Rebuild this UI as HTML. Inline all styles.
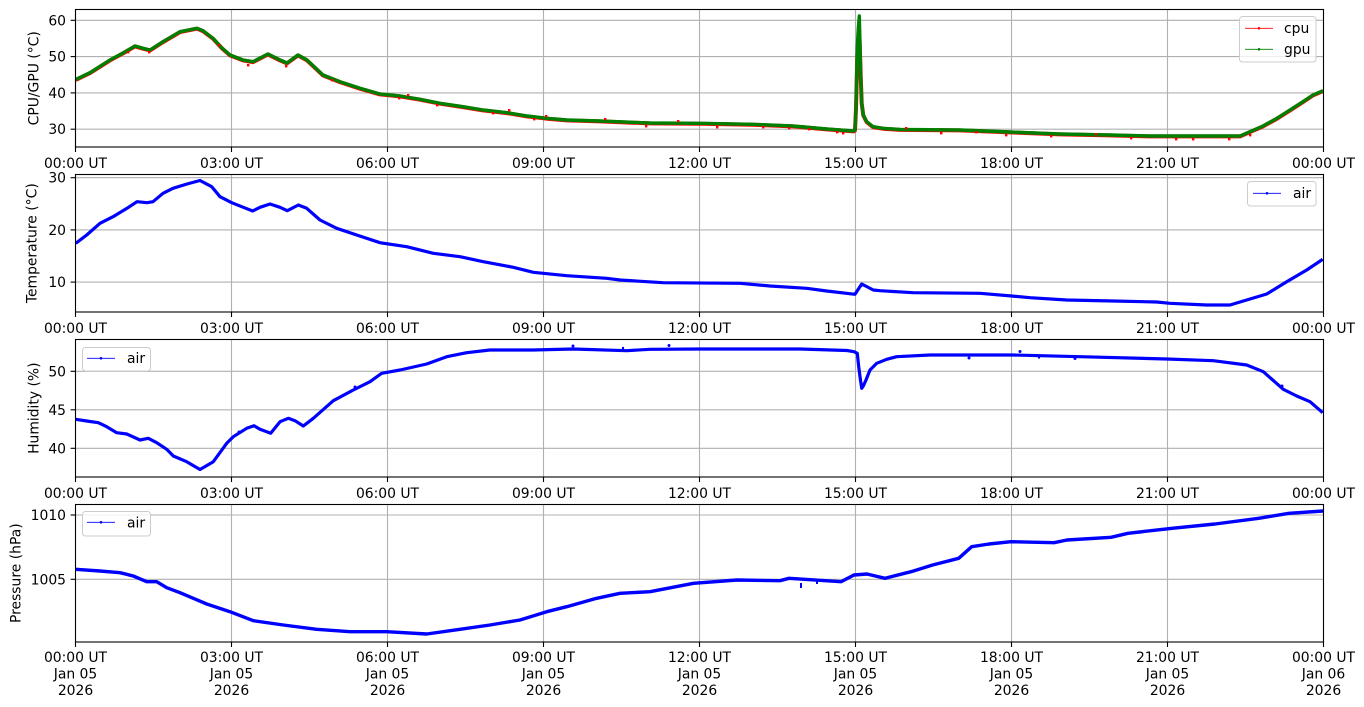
<!DOCTYPE html>
<html><head><meta charset="utf-8"><style>
html,body{margin:0;padding:0;background:#fff;}
svg{display:block;font-family:"DejaVu Sans","Liberation Sans",sans-serif;}
.tk{font-size:13.9px;fill:#000;}
.grid{stroke:#b0b0b0;stroke-width:1.1;}
.ax{fill:none;stroke:#000;stroke-width:1.1;}
.tick{stroke:#000;stroke-width:1.1;}
</style></head><body>
<svg width="1364" height="707" viewBox="0 0 1364 707" xmlns="http://www.w3.org/2000/svg">
<defs>
<clipPath id="c1"><rect x="75.5" y="9.5" width="1248" height="137.5"/></clipPath>
<clipPath id="c2"><rect x="75.5" y="174.5" width="1248" height="137.5"/></clipPath>
<clipPath id="c3"><rect x="75.5" y="339.5" width="1248" height="137.5"/></clipPath>
<clipPath id="c4"><rect x="75.5" y="504.5" width="1248" height="137.5"/></clipPath>
</defs>
<rect width="1364" height="707" fill="#fff"/>

<!-- ========== PANEL 1 ========== -->
<g>
<g class="grid">
<line x1="75.5" x2="1323.5" y1="20.3" y2="20.3"/><line x1="75.5" x2="1323.5" y1="56.6" y2="56.6"/>
<line x1="75.5" x2="1323.5" y1="92.9" y2="92.9"/><line x1="75.5" x2="1323.5" y1="129.2" y2="129.2"/>
<line x1="75.5" x2="75.5" y1="9.5" y2="147"/><line x1="231.5" x2="231.5" y1="9.5" y2="147"/>
<line x1="387.5" x2="387.5" y1="9.5" y2="147"/><line x1="543.5" x2="543.5" y1="9.5" y2="147"/>
<line x1="699.5" x2="699.5" y1="9.5" y2="147"/><line x1="855.5" x2="855.5" y1="9.5" y2="147"/>
<line x1="1011.5" x2="1011.5" y1="9.5" y2="147"/><line x1="1167.5" x2="1167.5" y1="9.5" y2="147"/>
</g>
<g clip-path="url(#c1)" fill="none" stroke-linejoin="round">
<polyline stroke="#ff0000" stroke-width="4" transform="translate(0,0.4)" points="75.7,79.5 90,72.7 110,60 123,53 135,46 143,48.3 150,50 163,41.7 180,31.7 197,28.3 203,30.7 213,38.3 222,48 230,55 243,60 253,61.7 268,54 280,60 287,63 298,55 307,60 323,75 340,81.7 360,88.3 380,94 400,96 420,99.3 440,103.3 463,106.7 483,110 507,112.7 527,116 547,118.3 567,120 600,121 650,123 700,123.3 753,124.3 793,126 826.7,129 853.5,131 855,130 856,108 856.7,80 857.3,55 858.3,40 859.3,30 860.7,75 861.7,103 863.3,115 866.7,121.7 873,126.7 883,128.3 900,129.5 960,130 1010,132 1060,134 1110,135 1150,136 1240,136 1250,131.7 1263,126 1277,118.3 1290,110 1303,101.7 1313,95 1323,90.7"/>
<polyline stroke="#008000" stroke-width="3.4" points="75.7,79.5 90,72.7 110,60 123,53 135,46 143,48.3 150,50 163,41.7 180,31.7 197,28.3 203,30.7 213,38.3 222,48 230,55 243,60 253,61.7 268,54 280,60 287,63 298,55 307,60 323,75 340,81.7 360,88.3 380,94 400,96 420,99.3 440,103.3 463,106.7 483,110 507,112.7 527,116 547,118.3 567,120 600,121 650,123 700,123.3 753,124.3 793,126 826.7,129 853.5,131 855,130 856,108 856.7,75 857.3,46.7 858.3,28.3 859.3,16 860.7,75 861.7,103 863.3,115 866.7,121.7 873,126.7 883,128.3 900,129.5 960,130 1010,132 1060,134 1110,135 1150,136 1240,136 1250,131.7 1263,126 1277,118.3 1290,110 1303,101.7 1313,95 1323,90.7"/>
</g>
<g fill="#ff0000">
<rect x="127" y="51" width="2.4" height="2.4"/><rect x="148" y="51" width="2.4" height="2.4"/><rect x="247" y="64" width="2.4" height="2.4"/>
<rect x="285" y="65" width="2.4" height="2.4"/><rect x="218" y="44" width="2.4" height="2.4"/><rect x="331" y="79" width="2.4" height="2.4"/>
<rect x="398" y="97" width="2.4" height="2.4"/><rect x="407" y="94" width="2.4" height="2.4"/><rect x="436" y="104" width="2.4" height="2.4"/>
<rect x="492" y="112" width="2.4" height="2.4"/><rect x="508" y="109" width="2.4" height="2.4"/><rect x="533" y="118" width="2.4" height="2.4"/>
<rect x="545" y="115" width="2.4" height="2.4"/><rect x="604" y="118" width="2.4" height="2.4"/><rect x="645" y="125" width="2.4" height="2.4"/>
<rect x="677" y="120" width="2.4" height="2.4"/><rect x="716" y="126" width="2.4" height="2.4"/><rect x="762" y="126" width="2.4" height="2.4"/>
<rect x="788" y="127" width="2.4" height="2.4"/><rect x="808" y="128" width="2.4" height="2.4"/><rect x="836" y="131" width="2.4" height="2.4"/>
<rect x="842" y="132" width="2.4" height="2.4"/><rect x="905" y="127" width="2.4" height="2.4"/><rect x="940" y="132" width="2.4" height="2.4"/>
<rect x="975" y="131" width="2.4" height="2.4"/><rect x="1005" y="134" width="2.4" height="2.4"/><rect x="1050" y="135" width="2.4" height="2.4"/>
<rect x="1095" y="133" width="2.4" height="2.4"/><rect x="1130" y="137" width="2.4" height="2.4"/><rect x="1175" y="138" width="2.4" height="2.4"/>
<rect x="1192" y="138" width="2.4" height="2.4"/><rect x="1228" y="138" width="2.4" height="2.4"/><rect x="1249" y="134" width="2.4" height="2.4"/>
</g>
<rect class="ax" x="75.5" y="9.5" width="1248" height="137.5"/>
<g class="tick">
<line x1="70.6" x2="75.5" y1="20.3" y2="20.3"/><line x1="70.6" x2="75.5" y1="56.6" y2="56.6"/>
<line x1="70.6" x2="75.5" y1="92.9" y2="92.9"/><line x1="70.6" x2="75.5" y1="129.2" y2="129.2"/>
<line x1="75.5" x2="75.5" y1="147" y2="152"/><line x1="231.5" x2="231.5" y1="147" y2="152"/>
<line x1="387.5" x2="387.5" y1="147" y2="152"/><line x1="543.5" x2="543.5" y1="147" y2="152"/>
<line x1="699.5" x2="699.5" y1="147" y2="152"/><line x1="855.5" x2="855.5" y1="147" y2="152"/>
<line x1="1011.5" x2="1011.5" y1="147" y2="152"/><line x1="1167.5" x2="1167.5" y1="147" y2="152"/>
<line x1="1323.5" x2="1323.5" y1="147" y2="152"/>
</g>
<g class="tk" text-anchor="end">
<text x="66" y="25.3">60</text><text x="66" y="61.6">50</text><text x="66" y="97.9">40</text><text x="66" y="134.2">30</text>
</g>
<g class="tk" text-anchor="middle">
<text x="75.5" y="168">00:00 UT</text><text x="231.5" y="168">03:00 UT</text><text x="387.5" y="168">06:00 UT</text>
<text x="543.5" y="168">09:00 UT</text><text x="699.5" y="168">12:00 UT</text><text x="855.5" y="168">15:00 UT</text>
<text x="1011.5" y="168">18:00 UT</text><text x="1167.5" y="168">21:00 UT</text><text x="1323.5" y="168">00:00 UT</text>
</g>
<text class="tk" text-anchor="middle" transform="translate(38.5,78.3) rotate(-90)">CPU/GPU (°C)</text>
<rect x="1239.5" y="16.5" width="76.5" height="45.5" rx="3" fill="#fff" fill-opacity="0.8" stroke="#cccccc" stroke-width="1"/>
<line x1="1245" x2="1273" y1="28.3" y2="28.3" stroke="#ff0000" stroke-width="0.8"/>
<circle cx="1259" cy="28.3" r="1.3" fill="#ff0000"/>
<line x1="1245" x2="1273" y1="49.3" y2="49.3" stroke="#008000" stroke-width="0.8"/>
<circle cx="1259" cy="49.3" r="1.3" fill="#008000"/>
<text class="tk" x="1284" y="33">cpu</text>
<text class="tk" x="1284" y="54">gpu</text>
</g>

<!-- ========== PANEL 2 ========== -->
<g>
<g class="grid">
<line x1="75.5" x2="1323.5" y1="177.7" y2="177.7"/><line x1="75.5" x2="1323.5" y1="229.9" y2="229.9"/>
<line x1="75.5" x2="1323.5" y1="282.1" y2="282.1"/>
<line x1="231.5" x2="231.5" y1="174.5" y2="312"/>
<line x1="387.5" x2="387.5" y1="174.5" y2="312"/><line x1="543.5" x2="543.5" y1="174.5" y2="312"/>
<line x1="699.5" x2="699.5" y1="174.5" y2="312"/><line x1="855.5" x2="855.5" y1="174.5" y2="312"/>
<line x1="1011.5" x2="1011.5" y1="174.5" y2="312"/><line x1="1167.5" x2="1167.5" y1="174.5" y2="312"/>
</g>
<g clip-path="url(#c2)" fill="none" stroke-linejoin="round">
<polyline stroke="#0000ff" stroke-width="3.2" points="75.7,243.3 86.7,235 100,223.3 113,216.7 127,208.3 137,201.7 147,202.7 153,201.7 163,193.3 173,188.3 187,184 200,180.5 211.7,186.7 220,196.7 231.7,202.7 243.3,207.3 252.7,211 260,207.3 270,204 280,207.3 287.3,210.7 298.3,205 306.7,208.3 320,220 336.7,228.3 356.7,235 380,242.7 406.7,246.7 433.3,253.3 460,256.7 483.3,261.7 513.3,267.3 533.3,272.3 566.7,275.7 606.7,278.3 620,280 663,282.7 740,283.3 770,286 806.7,288.3 826.7,291 855,294.3 861.7,284 873.3,290 880,290.7 913.3,292.7 980,293.3 1011.7,296 1030,297.7 1066.7,300 1113.3,301 1156.7,302 1170,303.3 1206.7,305 1230,305 1246.7,300 1266.7,294 1286.7,281.7 1306.7,270 1322.7,259.3"/>
</g>
<rect class="ax" x="75.5" y="174.5" width="1248" height="137.5"/>
<g class="tick">
<line x1="70.6" x2="75.5" y1="177.7" y2="177.7"/><line x1="70.6" x2="75.5" y1="229.9" y2="229.9"/>
<line x1="70.6" x2="75.5" y1="282.1" y2="282.1"/>
<line x1="75.5" x2="75.5" y1="312" y2="317"/><line x1="231.5" x2="231.5" y1="312" y2="317"/>
<line x1="387.5" x2="387.5" y1="312" y2="317"/><line x1="543.5" x2="543.5" y1="312" y2="317"/>
<line x1="699.5" x2="699.5" y1="312" y2="317"/><line x1="855.5" x2="855.5" y1="312" y2="317"/>
<line x1="1011.5" x2="1011.5" y1="312" y2="317"/><line x1="1167.5" x2="1167.5" y1="312" y2="317"/>
<line x1="1323.5" x2="1323.5" y1="312" y2="317"/>
</g>
<g class="tk" text-anchor="end">
<text x="66" y="182.7">30</text><text x="66" y="234.9">20</text><text x="66" y="287.1">10</text>
</g>
<g class="tk" text-anchor="middle">
<text x="75.5" y="333">00:00 UT</text><text x="231.5" y="333">03:00 UT</text><text x="387.5" y="333">06:00 UT</text>
<text x="543.5" y="333">09:00 UT</text><text x="699.5" y="333">12:00 UT</text><text x="855.5" y="333">15:00 UT</text>
<text x="1011.5" y="333">18:00 UT</text><text x="1167.5" y="333">21:00 UT</text><text x="1323.5" y="333">00:00 UT</text>
</g>
<text class="tk" text-anchor="middle" transform="translate(36.5,243.2) rotate(-90)">Temperature (°C)</text>
<rect x="1247.5" y="181.5" width="68.5" height="24.5" rx="3" fill="#fff" fill-opacity="0.8" stroke="#cccccc" stroke-width="1"/>
<line x1="1253" x2="1281" y1="193.3" y2="193.3" stroke="#0000ff" stroke-width="0.8"/>
<circle cx="1267" cy="193.3" r="1.3" fill="#0000ff"/>
<text class="tk" x="1293" y="198">air</text>
</g>

<!-- ========== PANEL 3 ========== -->
<g>
<g class="grid">
<line x1="75.5" x2="1323.5" y1="371.3" y2="371.3"/><line x1="75.5" x2="1323.5" y1="409.8" y2="409.8"/>
<line x1="75.5" x2="1323.5" y1="448.3" y2="448.3"/>
<line x1="231.5" x2="231.5" y1="339.5" y2="477"/>
<line x1="387.5" x2="387.5" y1="339.5" y2="477"/><line x1="543.5" x2="543.5" y1="339.5" y2="477"/>
<line x1="699.5" x2="699.5" y1="339.5" y2="477"/><line x1="855.5" x2="855.5" y1="339.5" y2="477"/>
<line x1="1011.5" x2="1011.5" y1="339.5" y2="477"/><line x1="1167.5" x2="1167.5" y1="339.5" y2="477"/>
</g>
<g clip-path="url(#c3)" fill="none" stroke-linejoin="round">
<polyline stroke="#0000ff" stroke-width="3.2" points="75.7,419.3 86.7,421 98.3,422.7 106.7,426.7 116.7,432.7 126.7,434 140,440 148.3,438.3 156.7,442.7 166.7,449.3 173.3,456 186.7,461.7 200,469.5 213.3,461.7 226.7,443.3 233.3,436.7 246.7,428.3 254,425.7 260,429.3 270.7,433.3 280,421.7 288.3,418.3 295,420.7 303.3,426 313.3,418.3 333.3,400.7 353.3,390 370,381.7 381.7,373.3 400,370 426.7,364 446.7,356.7 466.7,352.7 490,350 533,350 573,349 626.7,350.7 650,349.3 700,349 800,349 847,350.5 854,351.7 857.3,353.3 858.7,366.7 860,376.7 861.7,388.3 863.3,386 866,380 870,370 876.7,363.3 886.7,359.3 896.7,356.7 930,355 1013,355 1080,356.7 1166.7,359 1213.3,360.7 1246.7,365 1263.3,371.7 1283.3,389.3 1296.7,396 1310,401.7 1322.7,412.7"/>
</g>
<g fill="#0000ff">
<circle cx="573" cy="346" r="1.5"/><circle cx="669" cy="345.5" r="1.5"/><circle cx="969" cy="358" r="1.5"/>
<circle cx="1020" cy="351.5" r="1.5"/><circle cx="1075" cy="358.5" r="1.5"/><circle cx="1282" cy="386" r="1.5"/>
<circle cx="355" cy="387" r="1.5"/><circle cx="239" cy="432" r="1.5"/><circle cx="623" cy="348" r="1.2"/>
<circle cx="1039" cy="357.5" r="1.2"/><circle cx="1102" cy="357.5" r="1.2"/>
</g>
<rect class="ax" x="75.5" y="339.5" width="1248" height="137.5"/>
<g class="tick">
<line x1="70.6" x2="75.5" y1="371.3" y2="371.3"/><line x1="70.6" x2="75.5" y1="409.8" y2="409.8"/>
<line x1="70.6" x2="75.5" y1="448.3" y2="448.3"/>
<line x1="75.5" x2="75.5" y1="477" y2="482"/><line x1="231.5" x2="231.5" y1="477" y2="482"/>
<line x1="387.5" x2="387.5" y1="477" y2="482"/><line x1="543.5" x2="543.5" y1="477" y2="482"/>
<line x1="699.5" x2="699.5" y1="477" y2="482"/><line x1="855.5" x2="855.5" y1="477" y2="482"/>
<line x1="1011.5" x2="1011.5" y1="477" y2="482"/><line x1="1167.5" x2="1167.5" y1="477" y2="482"/>
<line x1="1323.5" x2="1323.5" y1="477" y2="482"/>
</g>
<g class="tk" text-anchor="end">
<text x="66" y="376.3">50</text><text x="66" y="414.8">45</text><text x="66" y="453.3">40</text>
</g>
<g class="tk" text-anchor="middle">
<text x="75.5" y="498">00:00 UT</text><text x="231.5" y="498">03:00 UT</text><text x="387.5" y="498">06:00 UT</text>
<text x="543.5" y="498">09:00 UT</text><text x="699.5" y="498">12:00 UT</text><text x="855.5" y="498">15:00 UT</text>
<text x="1011.5" y="498">18:00 UT</text><text x="1167.5" y="498">21:00 UT</text><text x="1323.5" y="498">00:00 UT</text>
</g>
<text class="tk" text-anchor="middle" transform="translate(38.5,408.2) rotate(-90)">Humidity (%)</text>
<rect x="82.5" y="347.5" width="68" height="23.5" rx="3" fill="#fff" fill-opacity="0.8" stroke="#cccccc" stroke-width="1"/>
<line x1="87" x2="115" y1="358.3" y2="358.3" stroke="#0000ff" stroke-width="0.8"/>
<circle cx="101" cy="358.3" r="1.3" fill="#0000ff"/>
<text class="tk" x="127" y="363">air</text>
</g>

<!-- ========== PANEL 4 ========== -->
<g>
<g class="grid">
<line x1="75.5" x2="1323.5" y1="515" y2="515"/><line x1="75.5" x2="1323.5" y1="579.3" y2="579.3"/>
<line x1="231.5" x2="231.5" y1="504.5" y2="642"/>
<line x1="387.5" x2="387.5" y1="504.5" y2="642"/><line x1="543.5" x2="543.5" y1="504.5" y2="642"/>
<line x1="699.5" x2="699.5" y1="504.5" y2="642"/><line x1="855.5" x2="855.5" y1="504.5" y2="642"/>
<line x1="1011.5" x2="1011.5" y1="504.5" y2="642"/><line x1="1167.5" x2="1167.5" y1="504.5" y2="642"/>
</g>
<g clip-path="url(#c4)" fill="none" stroke-linejoin="round">
<polyline stroke="#0000ff" stroke-width="3.4" points="75.7,569.3 100,571 120,572.7 133.3,576 146.7,581.7 156.7,581.7 166.7,587.7 180,592.7 193.3,598.3 206.7,604 230,611.7 253.3,620.7 283.3,625 316.7,629.3 350,631.7 386.7,631.7 426.7,634 460,629.3 490,625 520,620 546.7,611.7 566.7,606.7 596.7,598.3 620,593.3 650,591.7 693.5,583.3 737,580 780,580.7 789,578.3 841,581.7 854,575 867,574 885,578.3 911,571.7 932.6,565 958.7,558.3 971.7,546.7 989,544 1011,541.7 1054,542.7 1067,540 1111,537.3 1128,533.3 1172,528.3 1215,524 1258.7,518.3 1289,513.3 1323,511"/>
</g>
<g fill="#0000ff">
<rect x="800" y="583" width="2" height="5"/><rect x="816" y="580" width="2" height="4"/>
</g>
<rect class="ax" x="75.5" y="504.5" width="1248" height="137.5"/>
<g class="tick">
<line x1="70.6" x2="75.5" y1="515" y2="515"/><line x1="70.6" x2="75.5" y1="579.3" y2="579.3"/>
<line x1="75.5" x2="75.5" y1="642" y2="647"/><line x1="231.5" x2="231.5" y1="642" y2="647"/>
<line x1="387.5" x2="387.5" y1="642" y2="647"/><line x1="543.5" x2="543.5" y1="642" y2="647"/>
<line x1="699.5" x2="699.5" y1="642" y2="647"/><line x1="855.5" x2="855.5" y1="642" y2="647"/>
<line x1="1011.5" x2="1011.5" y1="642" y2="647"/><line x1="1167.5" x2="1167.5" y1="642" y2="647"/>
<line x1="1323.5" x2="1323.5" y1="642" y2="647"/>
</g>
<g class="tk" text-anchor="end">
<text x="66" y="520">1010</text><text x="66" y="584.3">1005</text>
</g>
<g class="tk" text-anchor="middle">
<text x="75.5" y="662">00:00 UT</text><text x="231.5" y="662">03:00 UT</text><text x="387.5" y="662">06:00 UT</text>
<text x="543.5" y="662">09:00 UT</text><text x="699.5" y="662">12:00 UT</text><text x="855.5" y="662">15:00 UT</text>
<text x="1011.5" y="662">18:00 UT</text><text x="1167.5" y="662">21:00 UT</text><text x="1323.5" y="662">00:00 UT</text>
<text x="75.5" y="678.5">Jan 05</text><text x="231.5" y="678.5">Jan 05</text><text x="387.5" y="678.5">Jan 05</text>
<text x="543.5" y="678.5">Jan 05</text><text x="699.5" y="678.5">Jan 05</text><text x="855.5" y="678.5">Jan 05</text>
<text x="1011.5" y="678.5">Jan 05</text><text x="1167.5" y="678.5">Jan 05</text><text x="1323.5" y="678.5">Jan 06</text>
<text x="75.5" y="695">2026</text><text x="231.5" y="695">2026</text><text x="387.5" y="695">2026</text>
<text x="543.5" y="695">2026</text><text x="699.5" y="695">2026</text><text x="855.5" y="695">2026</text>
<text x="1011.5" y="695">2026</text><text x="1167.5" y="695">2026</text><text x="1323.5" y="695">2026</text>
</g>
<text class="tk" text-anchor="middle" transform="translate(20.5,573.2) rotate(-90)">Pressure (hPa)</text>
<rect x="82.5" y="511.5" width="68" height="24.5" rx="3" fill="#fff" fill-opacity="0.8" stroke="#cccccc" stroke-width="1"/>
<line x1="87" x2="115" y1="522.3" y2="522.3" stroke="#0000ff" stroke-width="0.8"/>
<circle cx="101" cy="522.3" r="1.3" fill="#0000ff"/>
<text class="tk" x="127" y="527.5">air</text>
</g>
</svg>
</body></html>
